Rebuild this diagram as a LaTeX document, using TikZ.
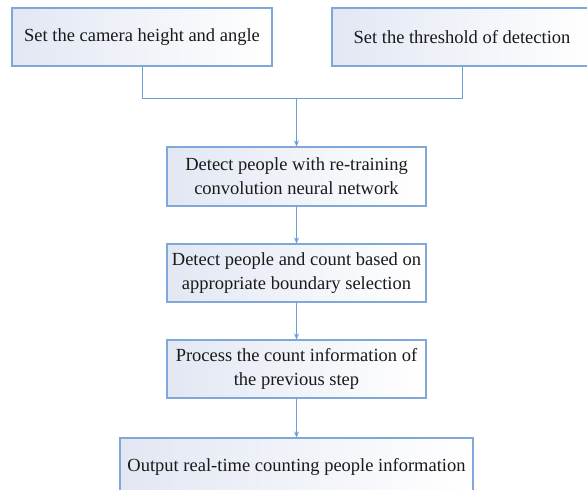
\documentclass[tikz,border=0pt]{standalone}
\usepackage{fontspec}
\setmainfont{Liberation Serif}
\usetikzlibrary{arrows.meta}
\definecolor{boxline}{HTML}{7FA8D8}
\definecolor{conn}{HTML}{6A9ED6}
\definecolor{shadec}{HTML}{E2E7F3}
\definecolor{txt}{HTML}{1A1A1A}
\tikzset{
  stepbox/.style={draw=boxline, line width=1.2pt, left color=shadec, right color=white,
    minimum height=58pt, inner sep=0pt, align=center,
    font=\fontsize{18.5}{24}\selectfont, text=txt},
  conline/.style={draw=conn, line width=1pt},
  arr/.style={conline, -{Stealth[length=6pt,width=5pt]}}
}
\begin{document}
\begin{tikzpicture}[x=1pt,y=-1pt]
\useasboundingbox (0,0) rectangle (587,490);
\clip (0,0) rectangle (587,490);
\node[stepbox, minimum width=260pt] (b1) at (142,37) {Set the camera height and angle};
\node[stepbox, minimum width=260pt] (b2) at (462,37) {Set the threshold of detection};
\node[stepbox, minimum width=259pt, minimum height=59pt] (b3) at (296.5,176.5) {Detect people with re-training\\convolution neural network};
\node[stepbox, minimum width=259pt] (b4) at (296.5,273) {Detect people and count based on\\appropriate boundary selection};
\node[stepbox, minimum width=259pt] (b5) at (296.5,369) {Process the count information of\\the previous step};
\node[stepbox, minimum width=353pt] (b6) at (296.5,467) {Output real-time counting people information};
\coordinate (m) at (296.5,98);
\draw[conline] (b1.south) |- (m);
\draw[conline] (b2.south) |- (m);
\draw[arr] (m) -- (b3.north);
\draw[arr] (b3.south) -- (b4.north);
\draw[arr] (b4.south) -- (b5.north);
\draw[arr] (b5.south) -- (b6.north);
\end{tikzpicture}
\end{document}
